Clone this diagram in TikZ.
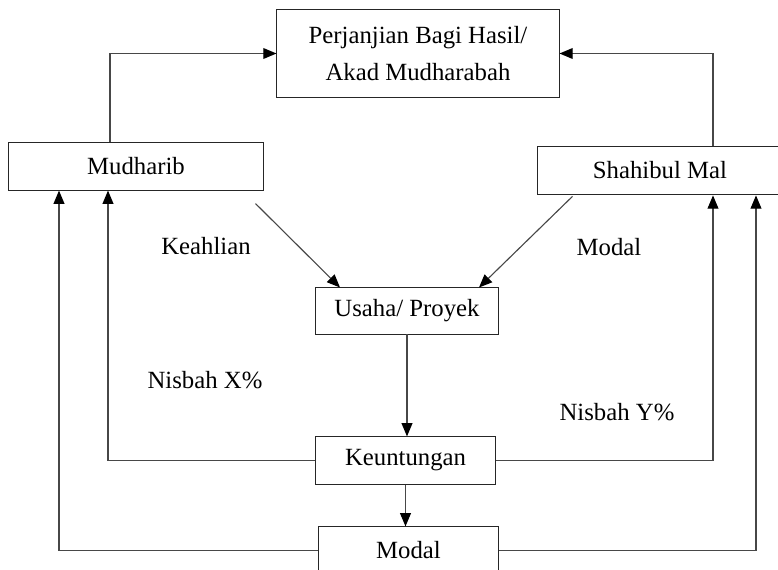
\documentclass[tikz,border=0pt]{standalone}
\usepackage{fontspec}
\setmainfont{Liberation Serif}
\usepackage{tikz}
\usetikzlibrary{arrows.meta,positioning,calc}

\begin{document}
\begin{tikzpicture}[x=0.025cm,y=-0.025cm,>={Triangle[length=0.33cm,width=0.27cm,color=black]},
  box/.style={draw=black!85,line width=0.7pt,inner sep=0pt,align=center,
    font=\fontsize{17.6}{26}\selectfont},
  link/.style={draw=black!72,line width=0.8pt},
  lbl/.style={font=\fontsize{17.6}{21}\selectfont}]
\useasboundingbox (0,0) rectangle (778,570);
% the boxes
\node[box,minimum width=7.05cm,minimum height=2.22cm] (akad) at (418,53.5)
  {Perjanjian Bagi Hasil/\\Akad Mudharabah};
\node[box,minimum width=6.35cm,minimum height=1.18cm] (mudharib) at (136,166.5) {Mudharib};
\node[box,minimum width=6.1cm,minimum height=1.22cm] (shahibul) at (660,170.5) {Shahibul Mal};
\node[box,minimum width=4.55cm,minimum height=1.15cm] (usaha) at (407,311) {Usaha/ Proyek};
\node[box,minimum width=4.48cm,minimum height=1.18cm] (untung) at (405.5,460.5) {Keuntungan};
\node[box,minimum width=4.48cm,minimum height=1.18cm] (modal) at (408.5,550.5) {Modal};
% labels
\node[lbl] (keahlian) at (206,246) {Keahlian};
\node[lbl] (lmodal) at (609,247) {Modal};
\node[lbl] (nisbahx) at (205,380) {Nisbah X\%};
\node[lbl] (nisbahy) at (617,412) {Nisbah Y\%};
% agreement
\draw[link,->] ($(mudharib.north)+(-26,0)$) |- (akad.west);
\draw[link,->] ($(shahibul.north)+(53,0)$) |- (akad.east);
% inputs to the venture
\coordinate (kstart) at ($(mudharib.south east)+(-8,13)$);
\coordinate (mstart) at ($(shahibul.south west)+(35,1)$);
\draw[link,->] (kstart) -- ($(usaha.north)+(-67,0)$);
\draw[link,->] (mstart) -- ($(usaha.north)+(72,0)$);
\draw[link,->] (usaha.south) -- (usaha.south |- untung.north);
\draw[link,->] (untung.south) -- (untung.south |- modal.north);
% returns
\draw[link,->] (untung.west) -| ($(mudharib.south)+(-28,0)$);
\draw[link,->] (untung.east) -| ($(shahibul.south)+(53,0)$);
\draw[link,->] (modal.west) -| ($(mudharib.south)+(-77,0)$);
\draw[link,->] (modal.east) -| ($(shahibul.south)+(96,0)$);
\end{tikzpicture}
\end{document}
